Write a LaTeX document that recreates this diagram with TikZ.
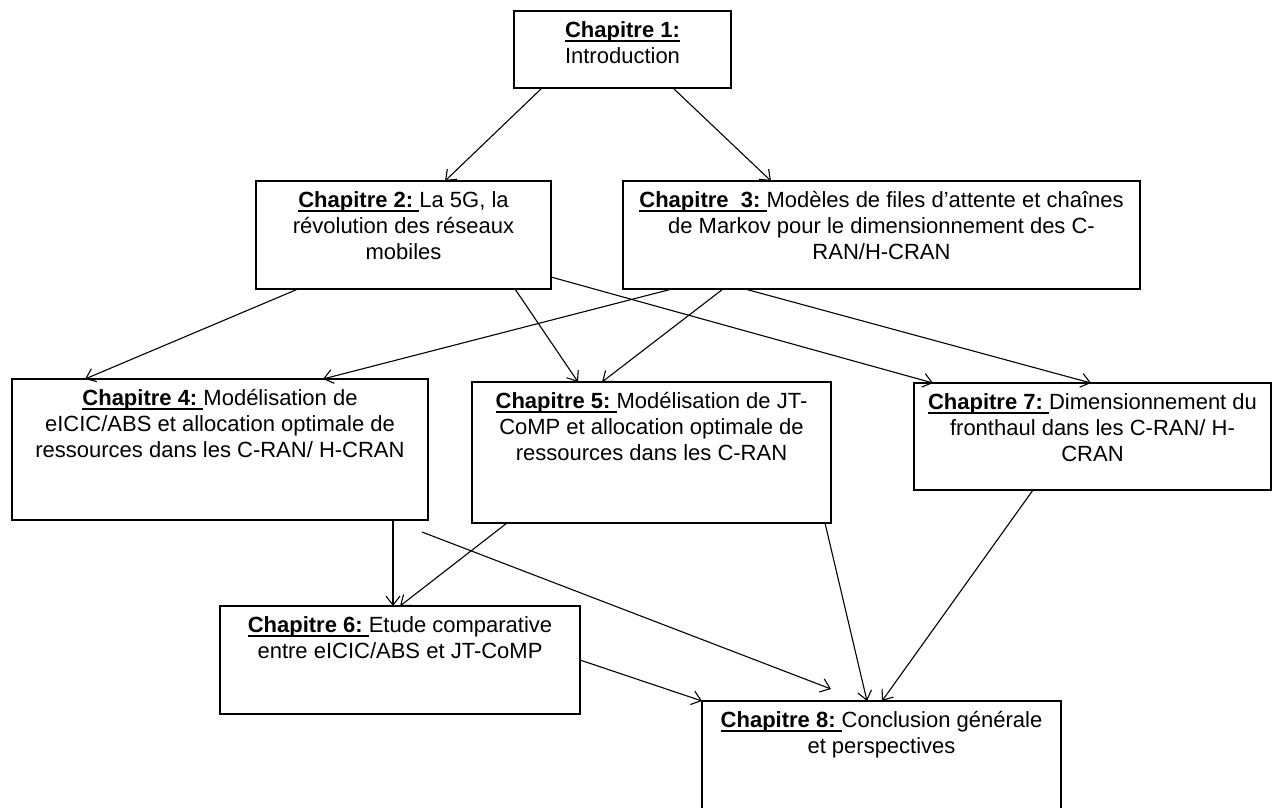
\documentclass[tikz,border=0pt]{standalone}
\usepackage{fontspec}
\setmainfont{Liberation Sans}
\usetikzlibrary{arrows.meta,calc}
\newcommand\ulchap[1]{\setbox0\hbox{\textbf{#1}}\rlap{\rule[-4.5pt]{\wd0}{1.4pt}}\box0}
\newcommand\chapbox[3]{\begin{minipage}[t][#2pt][t]{#1pt}\centering\fontsize{22pt}{26pt}\selectfont\rule{0pt}{26pt}#3\end{minipage}}
\begin{document}
\begin{tikzpicture}[x=1pt,y=-1pt,
  box/.style={draw, line width=1.6pt, inner sep=0pt, outer sep=0pt, anchor=north west},
  conn/.style={line width=1.1pt, -{Straight Barb[length=9pt,width=14pt,line width=1.1pt]}}]
\useasboundingbox (0,0) rectangle (1273,807);
\node[box] (c1) at (514,11) {\chapbox{217}{77}{\ulchap{Chapitre 1:}\\Introduction}};
\node[box] (c2) at (256,181) {\chapbox{295}{108}{\ulchap{Chapitre 2:\ }La 5G, la\\révolution des réseaux\\mobiles}};
\node[box] (c3) at (623,181) {\chapbox{517}{108}{\ulchap{Chapitre\ \ 3:\ }Modèles de files d'attente et chaînes\\de Markov pour le dimensionnement des C-\\RAN/H-CRAN}};
\node[box] (c4) at (12,379) {\chapbox{416}{141}{\ulchap{Chapitre 4:\ }Modélisation de\\eICIC/ABS et allocation optimale de\\ressources dans les C-RAN/ H-CRAN}};
\node[box] (c5) at (472,382) {\chapbox{359}{141}{\ulchap{Chapitre 5:\ }Modélisation de JT-\\CoMP et allocation optimale de\\ressources dans les C-RAN}};
\node[box] (c7) at (914,383) {\chapbox{357}{107}{\ulchap{Chapitre 7:\ }Dimensionnement du\\fronthaul dans les C-RAN/ H-\\CRAN}};
\node[box] (c6) at (220,606) {\chapbox{360}{108}{\ulchap{Chapitre 6:\ }Etude comparative\\entre eICIC/ABS et JT-CoMP}};
\node[box] (c8) at (702,701) {\chapbox{359}{125}{\ulchap{Chapitre 8:\ }Conclusion générale\\et perspectives}};
\coordinate (p11a) at (422,532);
\coordinate (p11b) at (831,689);
\draw[conn] ($(c1.south west)+(28,0)$) -- ($(c2.north west)+(189,0)$);
\draw[conn] ($(c1.south west)+(159,0)$) -- ($(c3.north west)+(148,0)$);
\draw[conn] ($(c2.south west)+(42,0)$) -- ($(c4.north west)+(73,0)$);
\draw[conn] ($(c2.south west)+(259,0)$) -- ($(c5.north west)+(106,0)$);
\draw[conn] ($(c2.north east)+(0,96)$) -- ($(c7.north west)+(19,0)$);
\draw[conn] ($(c3.south west)+(49,0)$) -- ($(c4.north west)+(311,0)$);
\draw[conn] ($(c3.south west)+(100,0)$) -- ($(c5.north west)+(130,0)$);
\draw[conn] ($(c3.south west)+(122,0)$) -- ($(c7.north west)+(177,0)$);
\draw[conn] ($(c4.south west)+(381,0)$) -- ($(c6.north west)+(173,0)$);
\draw[conn] ($(c5.south west)+(35,0)$) -- ($(c6.north west)+(180,0)$);
\draw[conn] (p11a) -- (p11b);
\draw[conn] ($(c6.north east)+(0,54)$) -- (c8.north west);
\draw[conn] ($(c5.south east)+(-6,0)$) -- ($(c8.north west)+(165,0)$);
\draw[conn] ($(c7.south west)+(119,0)$) -- ($(c8.north west)+(180,0)$);
\end{tikzpicture}
\end{document}
